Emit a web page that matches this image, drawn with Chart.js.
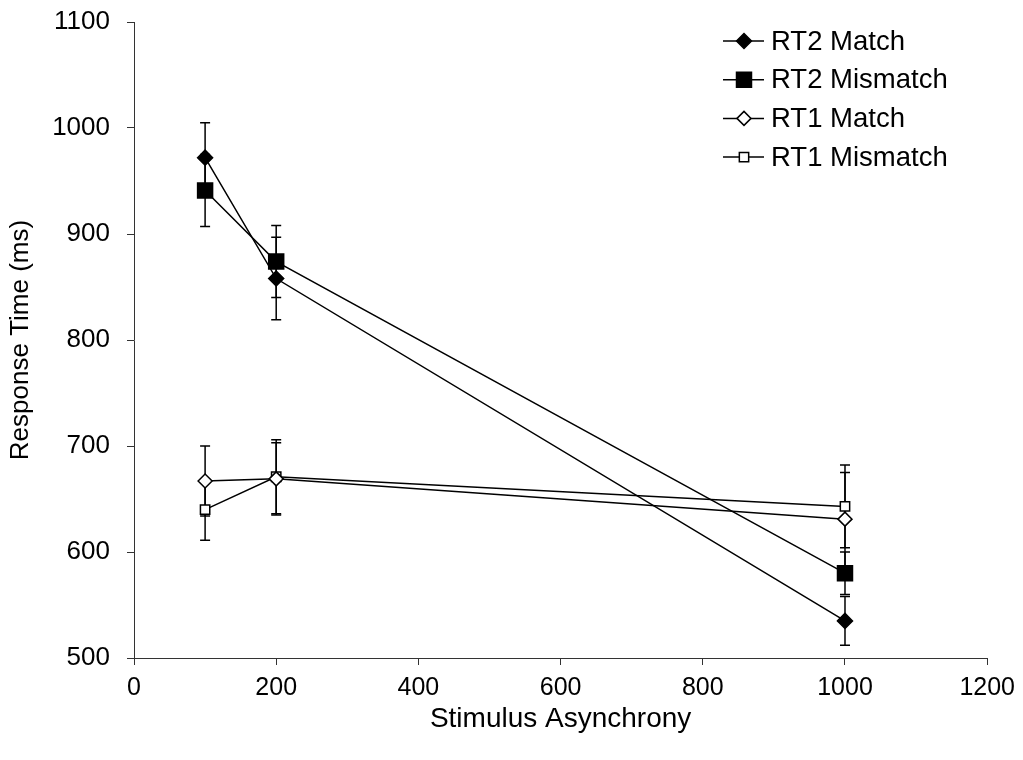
<!DOCTYPE html>
<html>
<head>
<meta charset="utf-8">
<script src="https://cdn.jsdelivr.net/npm/chart.js@4.4.0/dist/chart.umd.min.js"></script>
<style>
  html, body { margin: 0; padding: 0; background: #fff; }
</style>
</head>
<body>
<canvas id="myChart" width="1023" height="760"></canvas>
<script>
// x o'qi: stimul asinxronligi (ms)
const asynchrony = [100, 200, 1000];

// javob vaqtlari (ms) va xatolik chegaralari
const rt2Match = [972, 858, 535];
const rt2MatchErr = [33, 39, 23];
const rt2Mismatch = [941, 874, 580];
const rt2MismatchErr = [34, 34, 20];
const rt1Match = [667, 669, 631];
const rt1MatchErr = [33, 34, 44];
const rt1Mismatch = [640, 671, 643];
const rt1MismatchErr = [29, 35, 39];

const xTicks = [0, 200, 400, 600, 800, 1000, 1200];
const yTicks = [500, 600, 700, 800, 900, 1000, 1100];

const fontName = "'Liberation Sans', Arial, sans-serif";

function toPoints(vals) {
  return vals.map((v, i) => ({ x: asynchrony[i], y: v }));
}

// xatolik chiziqlari
const errorBars = {
  id: "errorBars",
  beforeDatasetsDraw(chart) {
    const ctx = chart.ctx;
    const xs = chart.scales.x;
    const ys = chart.scales.y;
    ctx.save();
    ctx.strokeStyle = "#000";
    ctx.lineWidth = 1.5;
    chart.data.datasets.forEach((ds) => {
      ds.data.forEach((p, i) => {
        const e = ds.errors[i];
        const px = xs.getPixelForValue(p.x);
        const top = ys.getPixelForValue(p.y + e);
        const bot = ys.getPixelForValue(p.y - e);
        ctx.beginPath();
        ctx.moveTo(px, top);
        ctx.lineTo(px, bot);
        ctx.moveTo(px - 5, top);
        ctx.lineTo(px + 5, top);
        ctx.moveTo(px - 5, bot);
        ctx.lineTo(px + 5, bot);
        ctx.stroke();
      });
    });
    ctx.restore();
  },
};

// legenda: chiziq + belgi
const lineLegend = {
  id: "lineLegend",
  afterDraw(chart) {
    const ctx = chart.ctx;
    ctx.save();
    ctx.font = "27.5px " + fontName;
    ctx.textBaseline = "middle";
    chart.data.datasets.forEach((ds, i) => {
      const y = 41 + i * 38.7;
      ctx.strokeStyle = "#000";
      ctx.lineWidth = 1.5;
      ctx.beginPath();
      ctx.moveTo(723, y);
      ctx.lineTo(764, y);
      ctx.stroke();
      ctx.fillStyle = ds.pointBackgroundColor;
      ctx.strokeStyle = "#000";
      ctx.lineWidth = ds.pointBorderWidth;
      Chart.helpers.drawPoint(ctx, {
        pointStyle: ds.pointStyle,
        radius: ds.pointRadius,
        rotation: 0,
        borderWidth: ds.pointBorderWidth,
      }, 744, y);
      ctx.fillStyle = "#000";
      ctx.fillText(ds.label, 771, y + 1);
    });
    ctx.restore();
  },
};

function series(label, vals, errs, style, radius, fill) {
  return {
    label: label,
    data: toPoints(vals),
    errors: errs,
    borderColor: "#000",
    borderWidth: 1.5,
    pointStyle: style,
    pointRadius: radius,
    pointHoverRadius: radius,
    pointBackgroundColor: fill,
    pointBorderColor: "#000",
    pointBorderWidth: 1.5,
    fill: false,
    tension: 0,
  };
}

let myChart = document.getElementById("myChart").getContext("2d");

let chart = new Chart(myChart, {
  type: "line",
  data: {
    datasets: [
      series("RT2 Match", rt2Match, rt2MatchErr, "rectRot", 7.5, "#000"),
      series("RT2 Mismatch", rt2Mismatch, rt2MismatchErr, "rect", 10.6, "#000"),
      series("RT1 Match", rt1Match, rt1MatchErr, "rectRot", 7, "#fff"),
      series("RT1 Mismatch", rt1Mismatch, rt1MismatchErr, "rect", 6.6, "#fff"),
    ],
  },
  options: {
    responsive: false,
    animation: false,
    events: [],
    layout: {
      padding: { left: 0, top: 22, right: 34, bottom: 0 },
    },
    plugins: {
      legend: { display: false },
      tooltip: { enabled: false },
    },
    scales: {
      x: {
        type: "linear",
        min: 0,
        max: 1200,
        afterBuildTicks: (s) => { s.ticks = xTicks.map((v) => ({ value: v })); },
        afterFit: (s) => { s.height = 102; },
        grid: { drawOnChartArea: false, tickLength: 7, color: "#333" },
        border: { color: "#333", width: 1 },
        ticks: {
          color: "#000",
          font: { family: fontName, size: 25 },
          padding: 8,
          callback: (v) => String(v),
        },
        title: {
          display: true,
          text: "Stimulus Asynchrony",
          color: "#000",
          font: { family: fontName, size: 28 },
          padding: { top: 0, bottom: 24 },
        },
      },
      y: {
        type: "linear",
        min: 500,
        max: 1100,
        afterBuildTicks: (s) => { s.ticks = yTicks.map((v) => ({ value: v })); },
        afterFit: (s) => {
          s.width = 134;
          s.paddingTop = 0;
          s.paddingBottom = 0;
        },
        grid: { drawOnChartArea: false, tickLength: 7, color: "#333" },
        border: { color: "#333", width: 1 },
        ticks: {
          color: "#000",
          font: { family: fontName, size: 26 },
          padding: 17,
          callback: (v) => String(v),
        },
        title: {
          display: true,
          text: "Response Time (ms)",
          color: "#000",
          font: { family: fontName, size: 26 },
          padding: { top: 5, bottom: 0 },
        },
      },
    },
  },
  plugins: [errorBars, lineLegend],
});
</script>
</body>
</html>
